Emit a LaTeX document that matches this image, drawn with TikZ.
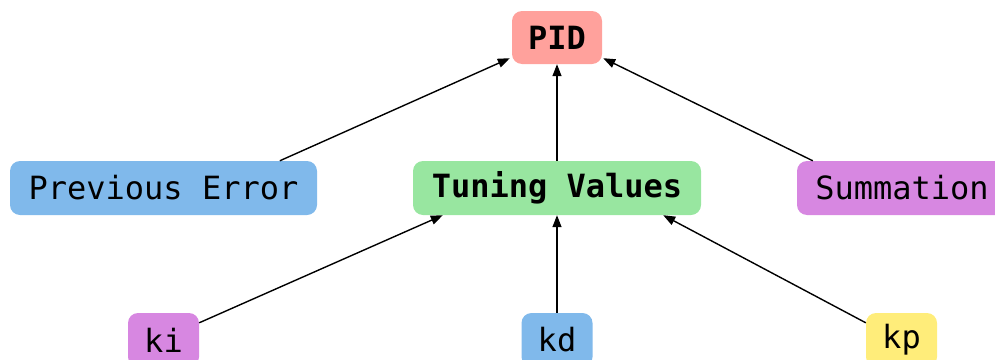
\documentclass[tikz,border=0pt]{standalone}
\usepackage{fontspec}
\setmonofont{DejaVu Sans Mono}
\usetikzlibrary{arrows.meta,calc}
\definecolor{pidc}{RGB}{255,161,156}
\definecolor{bluec}{RGB}{128,185,235}
\definecolor{greenc}{RGB}{152,230,160}
\definecolor{purpc}{RGB}{215,135,225}
\definecolor{yelc}{RGB}{255,237,122}
\tikzset{
  box/.style={rounded corners=10pt, inner xsep=2pt, inner ysep=0pt,
    minimum height=54pt, font=\ttfamily\fontsize{32}{32}\selectfont, text=black},
  edge/.style={line width=1.4pt, -{Triangle[length=12pt,width=9pt]}}
}
\begin{document}
\begin{tikzpicture}[x=1pt,y=-1pt]
\useasboundingbox (0,0) rectangle (995,359);
\clip (0,0) rectangle (995,359);
\node[box, fill=pidc, minimum width=90pt, minimum height=53pt, font=\ttfamily\bfseries\fontsize{32}{32}\selectfont] (pid) at (557,37.5) {PID};
\node[box, fill=bluec, minimum width=307pt] (pe) at (163.5,188) {Previous Error};
\node[box, fill=greenc, minimum width=288pt, font=\ttfamily\bfseries\fontsize{32}{32}\selectfont] (tv) at (557,188) {Tuning Values};
\node[box, fill=purpc, minimum width=210pt] (sum) at (902,188) {Summation};
\node[box, fill=purpc, minimum width=71pt] (ki) at (163.5,340) {ki};
\node[box, fill=bluec, minimum width=71pt] (kd) at (557,340) {kd};
\node[box, fill=yelc, minimum width=71pt] (kp) at (901.5,340) {kp};
\draw[edge] ($(pe.north west)+(270,0)$) -- ($(pid.south west)+(-2,-6)$);
\draw[edge] (tv.north) -- (pid.south);
\draw[edge] ($(sum.north west)+(16,0)$) -- ($(pid.south east)+(1,-6)$);
\draw[edge] ($(ki.north east)+(0,10)$) -- ($(tv.south west)+(30,0)$);
\draw[edge] (kd.north) -- (tv.south);
\draw[edge] ($(kp.north west)+(0,10)$) -- ($(tv.south east)+(-38,0)$);
\end{tikzpicture}
\end{document}
